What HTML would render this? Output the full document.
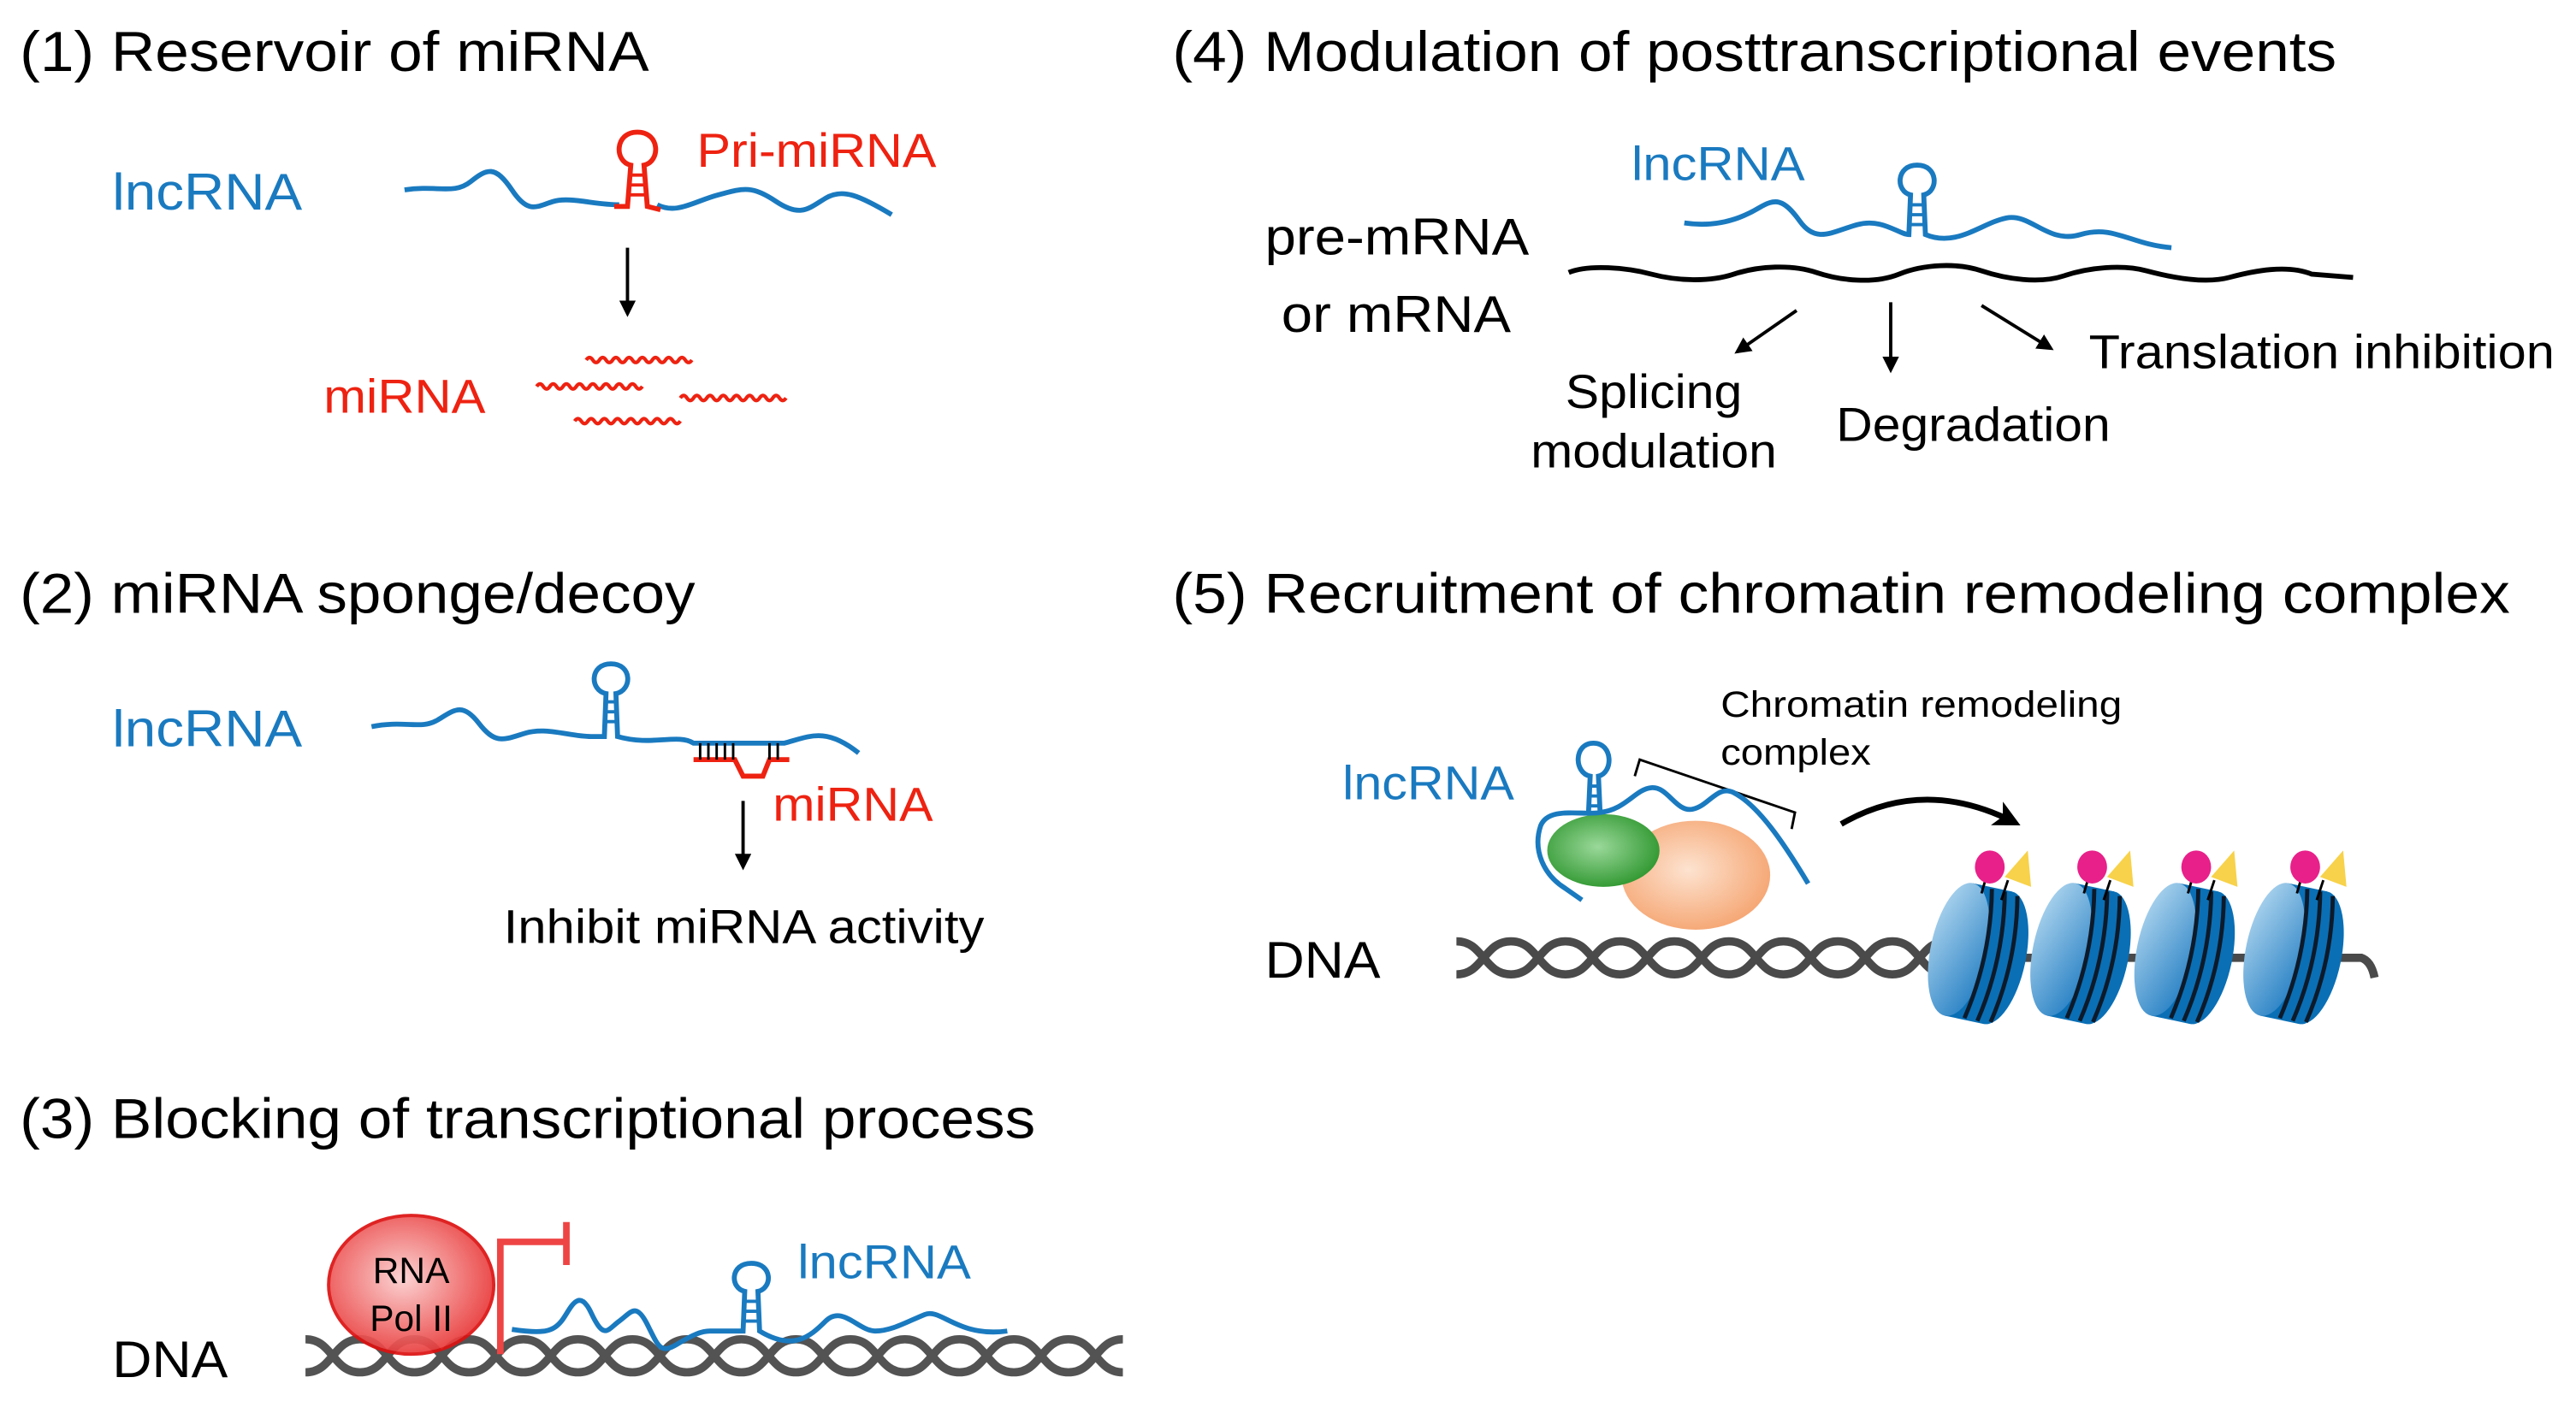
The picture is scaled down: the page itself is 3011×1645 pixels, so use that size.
<!DOCTYPE html>
<html><head><meta charset="utf-8"><style>
html,body{margin:0;padding:0;background:#fff;}
svg{display:block;}
text{font-family:"Liberation Sans",sans-serif;}
</style></head><body>
<svg width="3011" height="1645" viewBox="0 0 1560 852" preserveAspectRatio="none" xmlns="http://www.w3.org/2000/svg">
<defs>
<marker id="ah" markerWidth="10" markerHeight="10" refX="8" refY="5" orient="auto" markerUnits="userSpaceOnUse"><path d="M0,0 L10,5 L0,10 Z" fill="#000"/></marker>
<marker id="ah2" markerWidth="16" markerHeight="16" refX="12" refY="8" orient="auto" markerUnits="userSpaceOnUse"><path d="M0,0 L16,8 L0,16 L4,8 Z" fill="#000"/></marker>
<linearGradient id="face" x1="0" x2="1" y1="0" y2="1"><stop offset="0" stop-color="#b9dcf2"/><stop offset="1" stop-color="#1a78c0"/></linearGradient>
<radialGradient id="pol" cx="0.45" cy="0.45" r="0.6"><stop offset="0" stop-color="#fcd0d0"/><stop offset="1" stop-color="#e83030"/></radialGradient>
<radialGradient id="grn" cx="0.45" cy="0.45" r="0.6"><stop offset="0" stop-color="#9ad89a"/><stop offset="1" stop-color="#2d962d"/></radialGradient>
<radialGradient id="pch" cx="0.45" cy="0.45" r="0.6"><stop offset="0" stop-color="#fde3d0"/><stop offset="1" stop-color="#f5a470"/></radialGradient>
<g id="nuc">
<g transform="rotate(12)">
<ellipse cx="14" cy="0" rx="17" ry="41" fill="#0a6fb5"/>
<rect x="-10" y="-41" width="24" height="82" fill="#0a6fb5"/>
<ellipse cx="-10" cy="0" rx="17" ry="41" fill="url(#face)"/>
<path d="M2,-40 Q10,0 2,40 M10,-40 Q18,0 10,40 M18,-39 Q26,0 18,39" fill="none" stroke="#0d1a2a" stroke-width="2.5"/>
</g>
<line x1="4" y1="-36" x2="8" y2="-50" stroke="#000" stroke-width="1.5"/>
<line x1="16" y1="-32" x2="20" y2="-44" stroke="#000" stroke-width="1.5"/>
<ellipse cx="9" cy="-52" rx="9" ry="10" fill="#e8208a"/>
<path d="M18,-46 L32,-62 L34,-40 Z" fill="#f7d24a"/>
</g>
</defs>
<g font-size="34" fill="#000">
<text x="12" y="43" textLength="381" lengthAdjust="spacingAndGlyphs">(1) Reservoir of miRNA</text>
<text x="12" y="371" textLength="409" lengthAdjust="spacingAndGlyphs">(2) miRNA sponge/decoy</text>
<text x="12" y="689" textLength="615" lengthAdjust="spacingAndGlyphs">(3) Blocking of transcriptional process</text>
<text x="710" y="43" textLength="705" lengthAdjust="spacingAndGlyphs">(4) Modulation of posttranscriptional events</text>
<text x="710" y="371" textLength="810" lengthAdjust="spacingAndGlyphs">(5) Recruitment of chromatin remodeling complex</text>
</g>
<!-- (1) -->
<text x="68" y="127" font-size="31" fill="#1a7ac0" textLength="115" lengthAdjust="spacingAndGlyphs">lncRNA</text>
<path d="M245,115 C265,112 275,118 285,110 S300,100 310,115 S325,125 335,122 S360,124 375,124" fill="none" stroke="#1a7ac0" stroke-width="3"/>
<path d="M398,124 C410,130 420,122 435,118 S455,112 470,122 S490,126 500,120 S520,118 540,130" fill="none" stroke="#1a7ac0" stroke-width="3"/>
<path d="M372,125 L380,125 L382,100 C372,98 372,80 386,80 C400,80 400,98 390,100 L392,125 L400,127" fill="none" stroke="#e21" stroke-width="3"/>
<path d="M381,106h10M381,112h10M381,118h10" stroke="#e21" stroke-width="2"/>
<text x="422" y="101" font-size="29" fill="#e21" textLength="145" lengthAdjust="spacingAndGlyphs">Pri-miRNA</text>
<line x1="380" y1="150" x2="380" y2="190" stroke="#000" stroke-width="2" marker-end="url(#ah)"/>
<text x="196" y="250" font-size="29" fill="#e21" textLength="98" lengthAdjust="spacingAndGlyphs">miRNA</text>
<g fill="none" stroke="#e21" stroke-width="2.2">
<path d="M355,218 q2,-3 4,0 t4,0 t4,0 t4,0 t4,0 t4,0 t4,0 t4,0 t4,0 t4,0 t4,0 t4,0 t4,0 t4,0 t4,0 t4,0"/>
<path d="M325,234 q2,-3 4,0 t4,0 t4,0 t4,0 t4,0 t4,0 t4,0 t4,0 t4,0 t4,0 t4,0 t4,0 t4,0 t4,0 t4,0 t4,0"/>
<path d="M412,241 q2,-3 4,0 t4,0 t4,0 t4,0 t4,0 t4,0 t4,0 t4,0 t4,0 t4,0 t4,0 t4,0 t4,0 t4,0 t4,0 t4,0"/>
<path d="M348,255 q2,-3 4,0 t4,0 t4,0 t4,0 t4,0 t4,0 t4,0 t4,0 t4,0 t4,0 t4,0 t4,0 t4,0 t4,0 t4,0 t4,0"/>
</g>
<!-- (2) -->
<text x="68" y="452" font-size="31" fill="#1a7ac0" textLength="115" lengthAdjust="spacingAndGlyphs">lncRNA</text>
<path d="M225,440 C245,436 255,442 265,436 S280,425 290,438 S305,448 318,444 S345,446 358,446 L366,446 L367,420 C357,418 357,402 370,402 C383,402 383,418 373,420 L374,446 C395,452 410,444 420,450 L475,450 C490,446 500,440 520,456" fill="none" stroke="#1a7ac0" stroke-width="3"/>
<path d="M366,425h8M366,431h8M366,437h8" stroke="#1a7ac0" stroke-width="2"/>
<path d="M420,460 L445,460 L450,470 L462,470 L466,460 L478,460" fill="none" stroke="#e21" stroke-width="3"/>
<path d="M424,450v10M429,450v10M434,450v10M439,450v10M444,450v10M466,450v10M471,450v10" stroke="#000" stroke-width="1.5"/>
<text x="468" y="497" font-size="29" fill="#e21" textLength="97" lengthAdjust="spacingAndGlyphs">miRNA</text>
<line x1="450" y1="485" x2="450" y2="525" stroke="#000" stroke-width="2" marker-end="url(#ah)"/>
<text x="305" y="571" font-size="29" textLength="291" lengthAdjust="spacingAndGlyphs">Inhibit miRNA activity</text>
<!-- (3) -->
<text x="68" y="834" font-size="31" textLength="70" lengthAdjust="spacingAndGlyphs">DNA</text>
<g fill="none" stroke="#4a4a4a" stroke-width="5" opacity="0.95">
<path d="M185,811 C201.5,811 201.5,831 218,831 S234.5,811 251,811 S267.5,831 284,831 S300.5,811 317,811 S333.5,831 350,831 S366.5,811 383,811 S399.5,831 416,831 S432.5,811 449,811 S465.5,831 482,831 S498.5,811 515,811 S531.5,831 548,831 S564.5,811 581,811 S597.5,831 614,831 S630.5,811 647,811 S663.5,831 680,831"/>
<path d="M185,831 C201.5,831 201.5,811 218,811 S234.5,831 251,831 S267.5,811 284,811 S300.5,831 317,831 S333.5,811 350,811 S366.5,831 383,831 S399.5,811 416,811 S432.5,831 449,831 S465.5,811 482,811 S498.5,831 515,831 S531.5,811 548,811 S564.5,831 581,831 S597.5,811 614,811 S630.5,831 647,831 S663.5,811 680,811"/>
</g>
<ellipse cx="249" cy="778" rx="50" ry="42" fill="url(#pol)" stroke="#d11" stroke-width="2" opacity="0.92"/>
<text x="249" y="777" font-size="22" text-anchor="middle">RNA</text>
<text x="249" y="806" font-size="22" text-anchor="middle">Pol II</text>
<path d="M303,820 V752 H343 M343,740 V766" fill="none" stroke="#e44" stroke-width="4"/>
<text x="483" y="774" font-size="29" fill="#1a7ac0" textLength="105" lengthAdjust="spacingAndGlyphs">lncRNA</text>
<path d="M310,805 C330,808 335,806 340,800 S350,778 358,795 S368,805 375,800 S385,788 392,802 S400,820 410,814 S425,806 430,806 L450,806 L451,782 C442,780 442,765 455,765 C468,765 468,780 459,782 L460,806 C480,818 490,810 500,800 S520,806 530,806 S550,800 560,796 S580,810 610,806" fill="none" stroke="#1a7ac0" stroke-width="3"/>
<path d="M451,788h8M451,794h8M451,800h8" stroke="#1a7ac0" stroke-width="2"/>
<!-- (4) -->
<text x="988" y="109" font-size="29" fill="#1a7ac0" textLength="105" lengthAdjust="spacingAndGlyphs">lncRNA</text>
<text x="766" y="154" font-size="31" textLength="160" lengthAdjust="spacingAndGlyphs">pre-mRNA</text>
<text x="776" y="201" font-size="31" textLength="139" lengthAdjust="spacingAndGlyphs">or mRNA</text>
<path d="M950,165 C962,160 985,162 1000,166 S1035,171 1050,166 S1085,160 1100,165 S1135,172 1150,166 S1185,159 1200,164 S1235,172 1250,167 S1285,160 1300,164 S1335,172 1350,168 S1385,160 1400,166 L1425,168" fill="none" stroke="#000" stroke-width="3"/>
<path d="M1020,135 C1040,138 1055,132 1065,126 S1080,120 1090,134 S1110,140 1125,136 S1150,142 1156,142 L1157,118 C1148,116 1148,100 1161,100 C1174,100 1174,116 1165,118 L1166,142 C1185,150 1200,135 1215,132 S1240,148 1260,142 S1290,148 1315,150" fill="none" stroke="#1a7ac0" stroke-width="3"/>
<path d="M1157,124h8M1157,130h8M1157,136h8" stroke="#1a7ac0" stroke-width="2"/>
<g stroke="#000" stroke-width="2"><line x1="1088" y1="188" x2="1052" y2="213" marker-end="url(#ah)"/><line x1="1145" y1="183" x2="1145" y2="224" marker-end="url(#ah)"/><line x1="1200" y1="185" x2="1242" y2="211" marker-end="url(#ah)"/></g>
<text x="1265" y="223" font-size="29" textLength="282" lengthAdjust="spacingAndGlyphs">Translation inhibition</text>
<text x="948" y="247" font-size="29" textLength="107" lengthAdjust="spacingAndGlyphs">Splicing</text>
<text x="927" y="283" font-size="29" textLength="149" lengthAdjust="spacingAndGlyphs">modulation</text>
<text x="1112" y="267" font-size="29" textLength="166" lengthAdjust="spacingAndGlyphs">Degradation</text>
<!-- (5) -->
<text x="1042" y="434" font-size="22" textLength="243" lengthAdjust="spacingAndGlyphs">Chromatin remodeling</text>
<text x="1042" y="463" font-size="22" textLength="91" lengthAdjust="spacingAndGlyphs">complex</text>
<path d="M990,470 L993,460 L1087,492 L1085,502" fill="none" stroke="#000" stroke-width="1.5"/>
<text x="813" y="484" font-size="29" fill="#1a7ac0" textLength="104" lengthAdjust="spacingAndGlyphs">lncRNA</text>
<text x="766" y="592" font-size="31" textLength="70" lengthAdjust="spacingAndGlyphs">DNA</text>
<g fill="none" stroke="#4a4a4a" stroke-width="5">
<path d="M882,570 C898.5,570 898.5,590 915,590 S931.5,570 948,570 S964.5,590 981,590 S997.5,570 1014,570 S1030.5,590 1047,590 S1063.5,570 1080,570 S1096.5,590 1113,590 S1129.5,570 1146,570 S1162.5,590 1179,590"/>
<path d="M882,590 C898.5,590 898.5,570 915,570 S931.5,590 948,590 S964.5,570 981,570 S997.5,590 1014,590 S1030.5,570 1047,570 S1063.5,590 1080,590 S1096.5,570 1113,570 S1129.5,590 1146,590 S1162.5,570 1179,570"/>
<path d="M1175,580 L1430,580 Q1436,582 1438,592"/>
</g>
<ellipse cx="1027" cy="530" rx="45" ry="33" fill="url(#pch)"/>
<ellipse cx="971" cy="515" rx="34" ry="22" fill="url(#grn)"/>
<path d="M962,492 L963,470 C953,468 953,450 965,450 C977,450 977,468 968,470 L969,492 C958,494 938,488 933,500 C928,515 935,530 948,538 L958,545 M969,492 C985,490 990,478 1000,477 C1010,476 1015,492 1025,490 C1035,488 1040,475 1050,480 C1065,488 1080,510 1095,535" fill="none" stroke="#1a7ac0" stroke-width="3"/>
<path d="M963,476h6M963,482h6M963,488h6" stroke="#1a7ac0" stroke-width="2"/>
<path d="M1115,499 Q1165,470 1220,498" fill="none" stroke="#000" stroke-width="3.5" marker-end="url(#ah2)"/>
<use href="#nuc" x="1196" y="577"/>
<use href="#nuc" x="1258" y="577"/>
<use href="#nuc" x="1321" y="577"/>
<use href="#nuc" x="1387" y="577"/>
</svg>
</body></html>
